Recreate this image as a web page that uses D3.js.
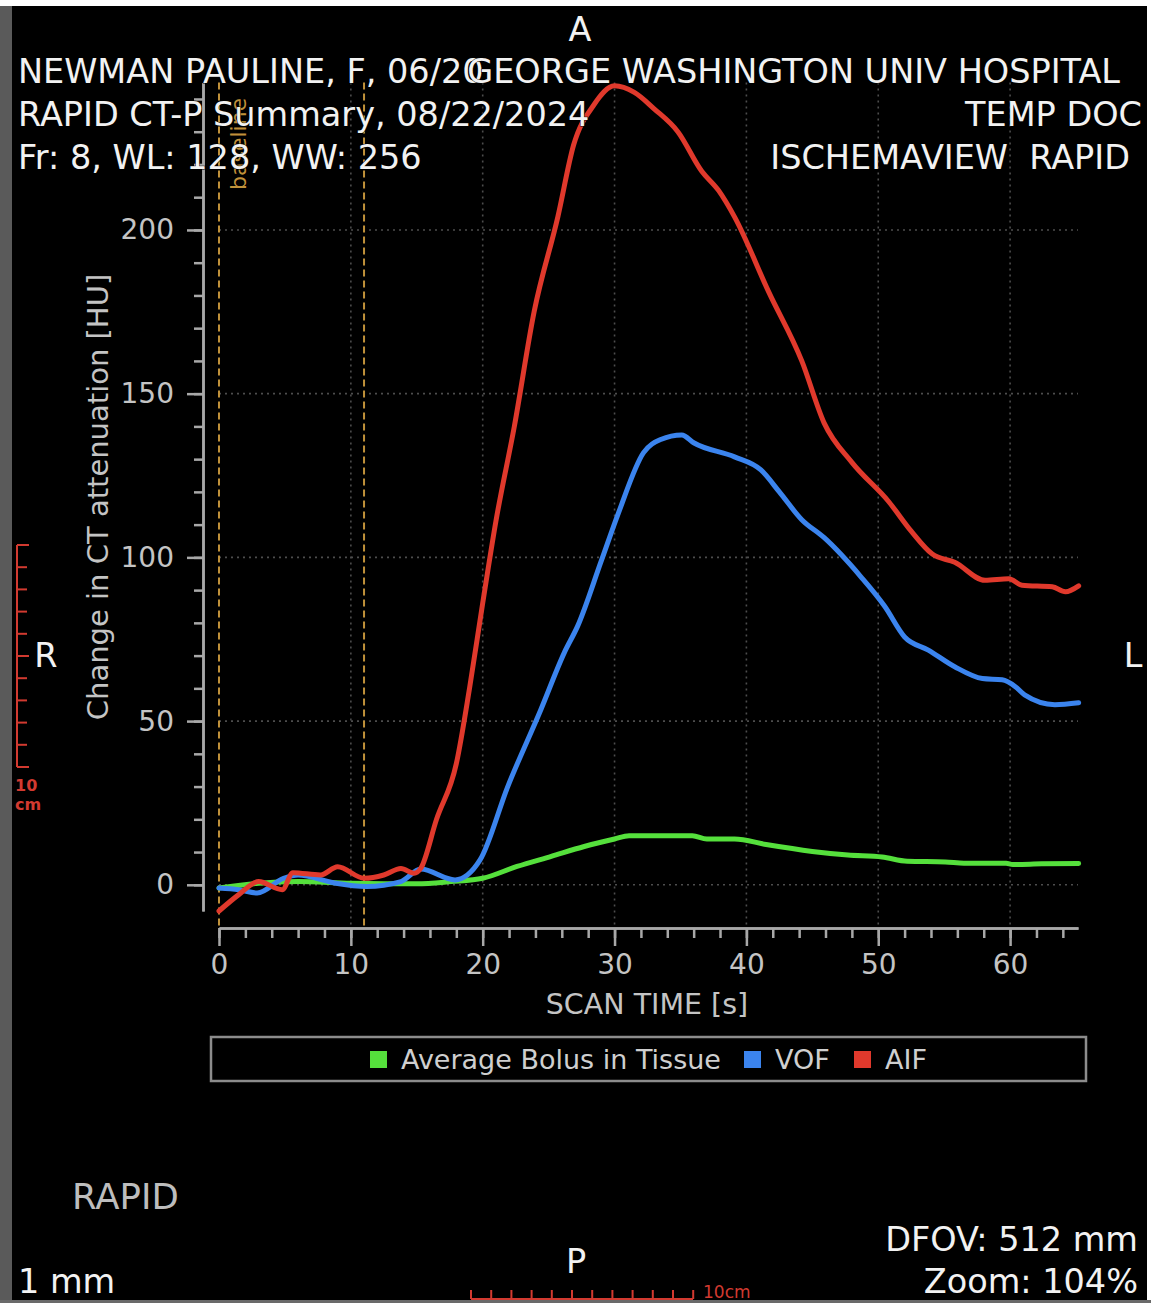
<!DOCTYPE html>
<html>
<head>
<meta charset="utf-8">
<script src="https://cdn.jsdelivr.net/npm/d3@7"></script>
<style>
  html, body { margin: 0; padding: 0; background: #fff; }
  svg { display: block; }
</style>
</head>
<body>
<div id="chart"></div>
<script>
// bolus curves (seconds, HU)
const aifTime = [0, 1.5, 3, 4.8, 5.6, 7.7, 9, 11, 12.5, 13.8, 14.8, 15.3, 16.5, 18, 19, 20, 21, 22.4, 23.9, 25.7, 26.9, 28.4, 30, 31.5, 33, 34.8, 36.6, 37.9, 39.1, 41.7, 44.2, 45.9, 48, 50.8, 52.5, 54.1, 55.8, 58.1, 59.9, 60.9, 63.2, 64.2, 65.2];
const aifValues = [-8, -3, 1, -1.5, 3.7, 3, 5.5, 2, 3, 5, 3.5, 5, 20, 37, 60, 86, 111, 140, 175, 204, 226, 238, 244, 242, 237, 230, 218, 212, 204, 181, 160, 141, 129, 117, 108, 101, 98.5, 93, 93.5, 91.5, 91, 89.5, 91.3];

const vofTime = [0, 1.5, 2.9, 4.9, 6, 8.7, 11.2, 13.8, 15.3, 17.9, 19.8, 21.9, 24.4, 26.2, 27.2, 29, 30.3, 32.2, 33.5, 35.1, 36, 39.1, 41.1, 42.5, 44.2, 45.9, 48.7, 50.5, 52, 53.8, 55.8, 57.9, 59.4, 60.4, 61.1, 63.4, 65.2];
const vofValues = [-1, -1.5, -2.5, 2, 3, 0.6, -0.5, 1, 4.8, 1.5, 7.6, 30, 53.4, 71, 79, 99, 113.6, 132, 136, 137.4, 135, 130.7, 126.7, 120, 111.5, 106, 94, 85, 75.7, 71.7, 66.6, 63, 62.6, 60.5, 58, 55, 55.6];

const tissueTime = [0, 3, 6, 10, 15, 17.6, 20, 22.6, 25.2, 27.7, 30, 31.1, 35.9, 37, 39.1, 41.5, 45, 47.7, 50.3, 52.2, 55.1, 56.5, 59.7, 60.2, 62.4, 65.2];
const tissueValues = [-1, 0.5, 1, 0.5, 0.3, 1, 2, 5.6, 8.7, 11.7, 14, 15, 15, 14, 14, 12.3, 10.2, 9.1, 8.5, 7.2, 7, 6.6, 6.6, 6.2, 6.4, 6.5];

const seriesNames = ["Average Bolus in Tissue", "VOF", "AIF"];
const seriesColors = ["#55e03c", "#3b84ee", "#e0392c"];

const xTicks = [0, 10, 20, 30, 40, 50, 60];
const yTicks = [0, 50, 100, 150, 200];
const baselineTimes = [0, 11];

const W = 1151, H = 1303;

const svg = d3.select("#chart").append("svg")
  .attr("width", W)
  .attr("height", H)
  .style("font-family", "'DejaVu Sans', Verdana, sans-serif");

// frame: black viewer, grey strip left, white edge top
svg.append("rect").attr("width", W).attr("height", H).attr("fill", "#fff");
svg.append("rect").attr("x", 0).attr("y", 6).attr("width", W - 4).attr("height", H - 6).attr("fill", "#000");
svg.append("rect").attr("x", 0).attr("y", 6).attr("width", 12).attr("height", H - 6).attr("fill", "#5a5a5a");
svg.append("rect").attr("x", 0).attr("y", H - 3).attr("width", W).attr("height", 3).attr("fill", "#6a6a6a");

// scales
const x = d3.scaleLinear().domain([0, 65.15]).range([219, 1078]);
const y = d3.scaleLinear().domain([-8, 245]).range([911, 82.6]);

// grid (dotted)
const grid = svg.append("g").attr("stroke", "#4d4d4d").attr("stroke-width", 1.6).attr("stroke-dasharray", "2,4");
grid.selectAll("line.h").data(yTicks).join("line")
  .attr("x1", x(0)).attr("x2", x(65.15))
  .attr("y1", d => y(d)).attr("y2", d => y(d));
grid.selectAll("line.v").data(xTicks.filter(d => d > 0)).join("line")
  .attr("x1", d => x(d)).attr("x2", d => x(d))
  .attr("y1", y(245)).attr("y2", 928);

// baseline markers
svg.append("g").selectAll("line").data(baselineTimes).join("line")
  .attr("x1", d => x(d)).attr("x2", d => x(d))
  .attr("y1", y(245)).attr("y2", 928)
  .attr("stroke", "#c0913a").attr("stroke-width", 2).attr("stroke-dasharray", "7,4");
svg.append("text")
  .attr("transform", `translate(${x(0) + 27},190) rotate(-90)`)
  .attr("fill", "#c0913a").attr("font-size", 22)
  .text("baseline");

// y axis: minor + major ticks
const yAxisX = 203;
const yMinor = svg.append("g").attr("transform", `translate(${yAxisX},0)`)
  .call(d3.axisLeft(y).tickValues(d3.range(0, 241, 10)).tickSizeInner(9).tickSizeOuter(0).tickFormat(""));
const yMajor = svg.append("g").attr("transform", `translate(${yAxisX},0)`)
  .call(d3.axisLeft(y).tickValues(yTicks).tickSizeInner(16).tickSizeOuter(0).tickPadding(13));
[yMinor, yMajor].forEach(g => {
  g.selectAll("path, line").attr("stroke", "#a8a8a8").attr("stroke-width", 2.5);
  g.selectAll("text").attr("fill", "#c4c4c4").attr("font-size", 28).attr("font-family", "'DejaVu Sans', sans-serif");
});

// x axis
const xAxisY = 928;
const xMinor = svg.append("g").attr("transform", `translate(0,${xAxisY})`)
  .call(d3.axisBottom(x).tickValues(d3.range(0, 65, 2)).tickSizeInner(10).tickSizeOuter(0).tickFormat(""));
const xMajor = svg.append("g").attr("transform", `translate(0,${xAxisY})`)
  .call(d3.axisBottom(x).tickValues(xTicks).tickSizeInner(18).tickSizeOuter(0).tickPadding(8));
[xMinor, xMajor].forEach(g => {
  g.selectAll("path, line").attr("stroke", "#a8a8a8").attr("stroke-width", 2.5);
  g.selectAll("text").attr("fill", "#c4c4c4").attr("font-size", 28).attr("font-family", "'DejaVu Sans', sans-serif");
});

// axis titles
svg.append("text")
  .attr("x", 647).attr("y", 1014)
  .attr("text-anchor", "middle").attr("fill", "#c4c4c4").attr("font-size", 28.5)
  .text("SCAN TIME [s]");
svg.append("text")
  .attr("transform", "translate(108,497) rotate(-90)")
  .attr("text-anchor", "middle").attr("fill", "#c4c4c4").attr("font-size", 29)
  .text("Change in CT attenuation [HU]");

// curves
const line = d3.line().x(d => x(d[0])).y(d => y(d[1])).curve(d3.curveMonotoneX);
const series = [
  d3.zip(tissueTime, tissueValues),
  d3.zip(vofTime, vofValues),
  d3.zip(aifTime, aifValues)
];
svg.append("g").selectAll("path").data(series).join("path")
  .attr("d", line)
  .attr("fill", "none")
  .attr("stroke", (d, i) => seriesColors[i])
  .attr("stroke-width", 5)
  .attr("stroke-linejoin", "round")
  .attr("stroke-linecap", "round");

// legend
svg.append("rect")
  .attr("x", 211).attr("y", 1037).attr("width", 875).attr("height", 44)
  .attr("fill", "none").attr("stroke", "#8c8c8c").attr("stroke-width", 2.5);
const legendX = [370, 744, 854];
const leg = svg.append("g").selectAll("g").data(seriesNames).join("g")
  .attr("transform", (d, i) => `translate(${legendX[i]},1059)`);
leg.append("rect").attr("x", 0).attr("y", -8).attr("width", 17).attr("height", 17)
  .attr("fill", (d, i) => seriesColors[i]);
leg.append("text").attr("x", 31).attr("y", 10)
  .attr("fill", "#cfcfcf").attr("font-size", 27)
  .text(d => d);

// viewer overlay text
const overlay = [
  { t: "A", x: 580, y: 41, a: "middle" },
  { t: "NEWMAN PAULINE, F, 06/20", x: 18, y: 83, a: "start" },
  { t: "GEORGE WASHINGTON UNIV HOSPITAL", x: 1120, y: 83, a: "end" },
  { t: "RAPID CT-P Summary, 08/22/2024", x: 18, y: 126, a: "start" },
  { t: "TEMP DOC", x: 1142, y: 126, a: "end" },
  { t: "Fr: 8, WL: 128, WW: 256", x: 18, y: 169, a: "start" },
  { t: "ISCHEMAVIEW  RAPID", x: 1130, y: 169, a: "end" },
  { t: "R", x: 46, y: 667, a: "middle" },
  { t: "L", x: 1133, y: 667, a: "middle" },
  { t: "P", x: 576, y: 1273, a: "middle" },
  { t: "DFOV: 512 mm", x: 1138, y: 1251, a: "end" },
  { t: "Zoom: 104%", x: 1138, y: 1293, a: "end" },
  { t: "1 mm", x: 18, y: 1293, a: "start" }
];
svg.append("g").selectAll("text").data(overlay).join("text")
  .attr("x", d => d.x).attr("y", d => d.y)
  .attr("text-anchor", d => d.a)
  .attr("fill", "#f2f2f2").attr("font-size", 33.5)
  .attr("stroke", "#000").attr("stroke-width", 1).attr("paint-order", "stroke")
  .style("white-space", "pre")
  .text(d => d.t);
svg.append("text").attr("x", 72).attr("y", 1209)
  .attr("fill", "#bdbdbd").attr("font-size", 35.5).text("RAPID");

// scale rulers
const rulerColor = "#d23a30";
const leftRuler = svg.append("g").attr("stroke", rulerColor).attr("stroke-width", 2);
leftRuler.append("line").attr("x1", 17).attr("x2", 17).attr("y1", 545).attr("y2", 767);
leftRuler.selectAll("line.t").data(d3.range(11)).join("line")
  .attr("x1", 17).attr("x2", d => (d % 5 === 0 ? 29 : 27))
  .attr("y1", d => 545 + d * 22.2).attr("y2", d => 545 + d * 22.2);
svg.append("text").attr("x", 15).attr("y", 791).attr("fill", rulerColor)
  .attr("font-size", 16).attr("font-weight", "bold").text("10");
svg.append("text").attr("x", 15).attr("y", 810).attr("fill", rulerColor)
  .attr("font-size", 16).attr("font-weight", "bold").text("cm");

const bottomRuler = svg.append("g").attr("stroke", rulerColor).attr("stroke-width", 2);
bottomRuler.append("line").attr("x1", 471).attr("x2", 693).attr("y1", 1299).attr("y2", 1299);
bottomRuler.selectAll("line.t").data(d3.range(12)).join("line")
  .attr("x1", d => 471 + d * 20.2).attr("x2", d => 471 + d * 20.2)
  .attr("y1", 1290).attr("y2", 1299);
svg.append("text").attr("x", 703).attr("y", 1298).attr("fill", rulerColor)
  .attr("font-size", 17).text("10cm");
</script>
</body>
</html>
